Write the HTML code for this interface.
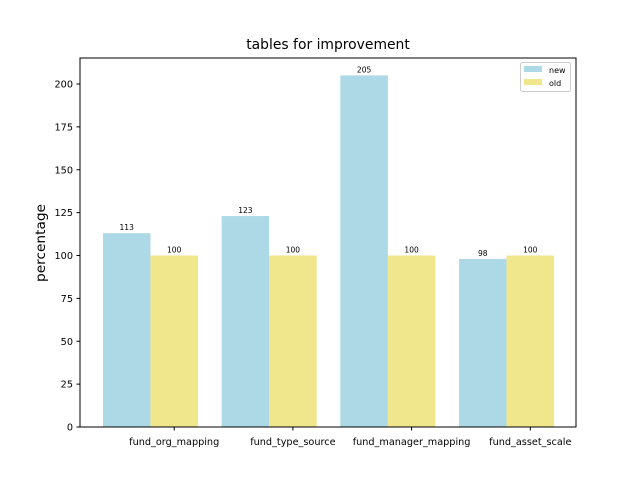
<!DOCTYPE html>
<html><head><meta charset="utf-8"><style>
body{margin:0;background:#fff}
svg{font-family:"DejaVu Sans","Liberation Sans",sans-serif}
</style></head><body>
<svg id="chart" width="640" height="480" xmlns="http://www.w3.org/2000/svg">
<rect width="640" height="480" fill="#fff"/>
<text x="328" y="49" text-anchor="middle" font-size="13.9">tables for improvement</text>
<text x="45" y="243" text-anchor="middle" font-size="13.7" transform="rotate(-90 45 243)">percentage</text>
<g id="marks"></g>
<g id="axes"></g>
<rect x="80" y="58" width="496" height="369" fill="none" stroke="#000" stroke-width="1"/>
<g>
<rect x="520.5" y="62.5" width="50" height="29" rx="2" fill="#fff" stroke="#ccc"/>
<g><rect x="524" y="66" width="18" height="6" fill="#add8e6"/><text x="549" y="73" font-size="8">new</text></g>
<g><rect x="524" y="79" width="18" height="6" fill="#f0e68c"/><text x="549" y="86" font-size="8">old</text></g>
</g>
</svg>
<script>
const categories=["fund_org_mapping","fund_type_source","fund_manager_mapping","fund_asset_scale"];
const newValues=[113,123,205,98];
const oldValues=[100,100,100,100];
const yTicks=[0,25,50,75,100,125,150,175,200];
const NS="http://www.w3.org/2000/svg";
const y=v=>427-v*343/200;
const x=i=>126.7+i*118.7;
const bw=47.5;
const marks=document.getElementById('marks'),axes=document.getElementById('axes');
function mk(tag,attrs,parent,txt){const e=document.createElementNS(NS,tag);for(const k in attrs)e.setAttribute(k,attrs[k]);if(txt!==undefined)e.textContent=txt;parent.appendChild(e);return e;}
categories.forEach((c,i)=>{
 const a=mk('rect',{x:x(i)-bw/2,y:y(newValues[i]),width:bw,height:y(0)-y(newValues[i]),fill:'#add8e6'},marks);
 
 
 const b=mk('rect',{x:x(i)+bw/2,y:y(oldValues[i]),width:bw,height:y(0)-y(oldValues[i]),fill:'#f0e68c'},marks);
 
 
 const t1=mk('text',{x:x(i),y:y(newValues[i])-3,'text-anchor':'middle','font-size':'7.5'},marks,newValues[i]);
 
 
 const t2=mk('text',{x:x(i)+bw,y:y(oldValues[i])-3,'text-anchor':'middle','font-size':'7.5'},marks,oldValues[i]);
 
 
 const tx=x(i)+bw;
 mk('line',{x1:tx,x2:tx,y1:427,y2:430.5,stroke:'#000'},axes);
 const l=mk('text',{x:tx,y:445,'text-anchor':'middle','font-size':'9.7'},axes,c);
 
 
});
yTicks.forEach(v=>{
 mk('line',{x1:76.5,x2:80,y1:y(v),y2:y(v),stroke:'#000'},axes);
 const l=mk('text',{x:73,y:y(v)+3.5,'text-anchor':'end','font-size':'9.7'},axes,v);
 
 
});
</script>
</body></html>
